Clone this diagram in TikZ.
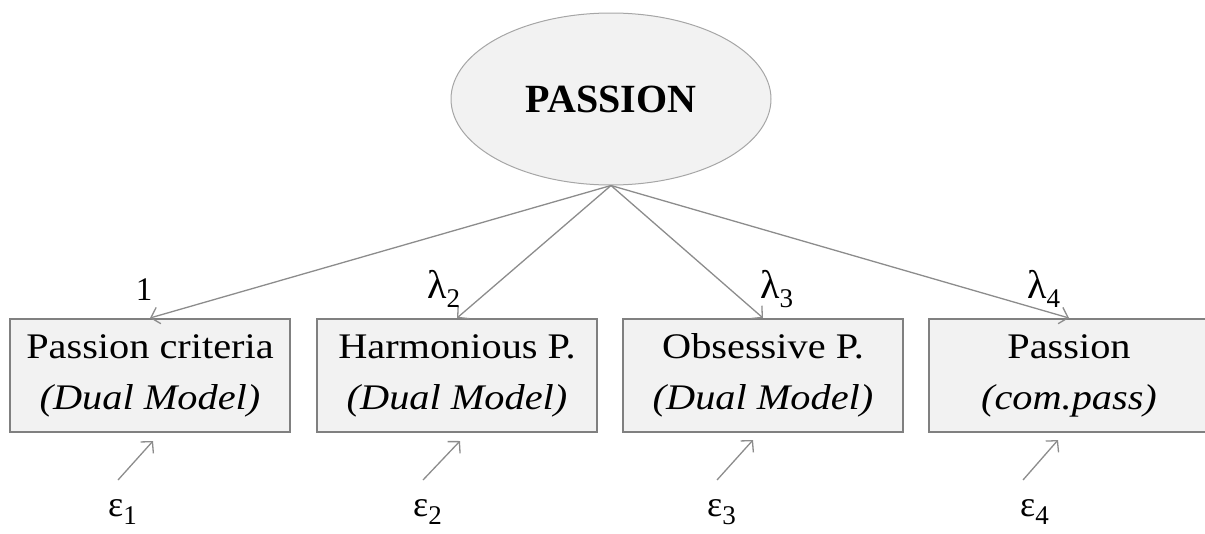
\documentclass[tikz,border=0pt]{standalone}
\usepackage{fontspec}
\setmainfont{Liberation Serif}
\newfontfamily\boxfont{Liberation Serif}[FakeStretch=1.12]
\usetikzlibrary{shapes.geometric,arrows.meta}
\definecolor{fillgray}{HTML}{F2F2F2}
\definecolor{boxline}{HTML}{808080}
\definecolor{arrowgray}{HTML}{8C8C8C}
\definecolor{ellline}{HTML}{A6A6A6}
\newcommand\myidx[1]{\raisebox{-0.24em}{\fontsize{27}{27}\selectfont #1}}
\begin{document}
\begin{tikzpicture}[x=1pt,y=-1pt,
  latent/.style={ellipse, draw=ellline, fill=fillgray, line width=1pt,
    minimum width=320pt, minimum height=172pt, inner sep=0pt,
    font=\fontsize{40}{48}\selectfont\bfseries},
  indicator/.style={rectangle, draw=boxline, fill=fillgray, line width=2pt,
    minimum width=280pt, minimum height=113pt, inner sep=0pt, align=center,
    font=\boxfont\fontsize{36}{51}\selectfont},
  loadarrow/.style={draw=arrowgray, line width=1.3pt,
    -{Straight Barb[length=8pt,width=17pt,line width=1.3pt]}},
  lamlbl/.style={anchor=base west, inner sep=0pt, font=\fontsize{40}{44}\selectfont},
  onelbl/.style={anchor=base, inner sep=0pt, font=\fontsize{33}{36}\selectfont},
  errlbl/.style={anchor=base west, inner sep=0pt, font=\fontsize{36}{40}\selectfont}]
\useasboundingbox (0,0) rectangle (1205,533);

\node[latent] (passion) at (611,99) {PASSION};

\node[indicator] (b1) at (150,375.5) {Passion criteria\\\textit{(Dual Model)}};
\node[indicator] (b2) at (457,375.5) {Harmonious P.\\\textit{(Dual Model)}};
\node[indicator] (b3) at (763,375.5) {Obsessive P.\\\textit{(Dual Model)}};
\node[indicator] (b4) at (1069,375.5) {Passion\\\textit{(com.pass)}};

\draw[loadarrow] (passion.south) -- (b1.north);
\draw[loadarrow] (passion.south) -- (b2.north);
\draw[loadarrow] (passion.south) -- (b3.north);
\draw[loadarrow] (passion.south) -- (b4.north);

\node[onelbl] (l1) at (144,300) {1};
\node[lamlbl] (l2) at (427,298) {λ\myidx{2}};
\node[lamlbl] (l3) at (760,298) {λ\myidx{3}};
\node[lamlbl] (l4) at (1027,298) {λ\myidx{4}};

\coordinate (e1s) at (118,480);
\coordinate (e1t) at (153,441);
\coordinate (e2s) at (423,480);
\coordinate (e2t) at (460,441);
\coordinate (e3s) at (717,480);
\coordinate (e3t) at (753,440);
\coordinate (e4s) at (1023,480);
\coordinate (e4t) at (1058,440);
\draw[loadarrow] (e1s) -- (e1t);
\draw[loadarrow] (e2s) -- (e2t);
\draw[loadarrow] (e3s) -- (e3t);
\draw[loadarrow] (e4s) -- (e4t);

\node[errlbl] (eps1) at (108,516) {ε\myidx{1}};
\node[errlbl] (eps2) at (413,516) {ε\myidx{2}};
\node[errlbl] (eps3) at (707,516) {ε\myidx{3}};
\node[errlbl] (eps4) at (1020,516) {ε\myidx{4}};
\end{tikzpicture}
\end{document}
